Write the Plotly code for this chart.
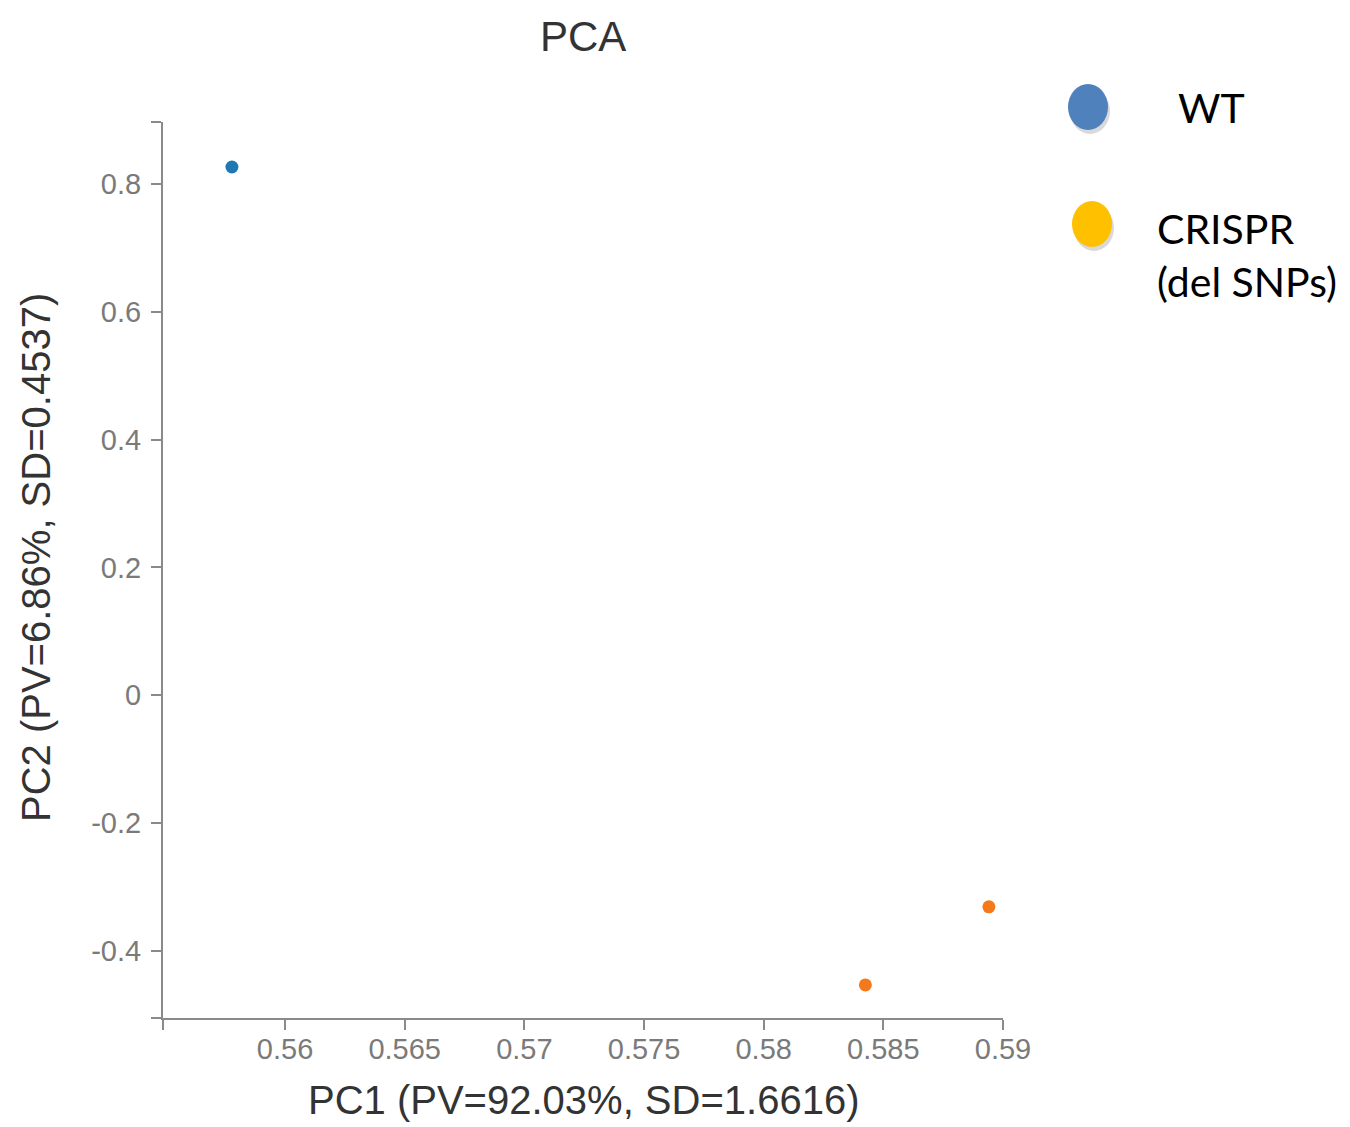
import plotly.graph_objects as go

# ---- data ----
groups = ["WT", "CRISPR", "CRISPR"]
pc1 = [0.55778, 0.58425, 0.58941]
pc2 = [0.8266, -0.4532, -0.3311]
legend_labels = ["WT", "CRISPR<br>(del SNPs)"]
x_ticks = [0.56, 0.565, 0.57, 0.575, 0.58, 0.585, 0.59]
x_tick_text = ["0.56", "0.565", "0.57", "0.575", "0.58", "0.585", "0.59"]
y_ticks = [-0.4, -0.2, 0, 0.2, 0.4, 0.6, 0.8]
y_tick_text = ["-0.4", "-0.2", "0", "0.2", "0.4", "0.6", "0.8"]
x_range = [0.5549, 0.59]
y_range = [-0.505, 0.897]

point_colors = {"WT": "#1f77b4", "CRISPR": "#f5791a"}
legend_colors = ["#4f81bd", "#ffc000"]

# page offset (body margin) and plot area in page pixels
OFF = 8
W, H = 1350, 1127
L, R, T, B = 163, 1003, 122, 1018
pw, ph = R - L, B - T

def px(xp):
    return (xp - L) / pw

def py(yp):
    return (B - yp) / ph

fig = go.Figure()
for g in ["WT", "CRISPR"]:
    xs = [x for x, gg in zip(pc1, groups) if gg == g]
    ys = [y for y, gg in zip(pc2, groups) if gg == g]
    fig.add_trace(go.Scatter(
        x=xs, y=ys, mode="markers", name=g,
        marker=dict(size=13, color=point_colors[g], line=dict(width=0)),
        showlegend=False,
    ))

axis_common = dict(
    showgrid=False, zeroline=False, showline=True, linecolor="#8a8a8a", linewidth=2,
    ticks="outside", ticklen=10, tickwidth=2, tickcolor="#8a8a8a",
    tickfont=dict(family="Liberation Sans, Arial", size=29, color="#7a7a7a"),
    mirror=False,
)

fig.update_layout(
    width=W, height=H,
    margin=dict(l=L - OFF, r=W - R + OFF, t=T - OFF, b=H - B + OFF),
    plot_bgcolor="white", paper_bgcolor="white",
    xaxis=dict(range=x_range, tickvals=[x_range[0]] + x_ticks,
               ticktext=[""] + x_tick_text, ticklabelstandoff=-6, **axis_common),
    yaxis=dict(range=y_range, tickvals=[y_range[0]] + y_ticks + [y_range[1]],
               ticktext=[""] + y_tick_text + [""], ticklabelstandoff=4, **axis_common),
)

annotations = [
    dict(text="PCA", x=px(583), y=py(36), xref="paper", yref="paper",
         showarrow=False, xanchor="center", yanchor="middle", borderpad=0,
         font=dict(family="Liberation Sans, Arial", size=42, color="#333333")),
    dict(text="PC1 (PV=92.03%, SD=1.6616)", x=px(583), y=py(1100), xref="paper", yref="paper",
         showarrow=False, xanchor="center", yanchor="middle", borderpad=0,
         font=dict(family="Liberation Sans, Arial", size=40, color="#333333")),
    dict(text="PC2 (PV=6.86%, SD=0.4537)", x=px(36), y=py(558), xref="paper", yref="paper",
         showarrow=False, xanchor="center", yanchor="middle", textangle=-90, borderpad=0,
         font=dict(family="Liberation Sans, Arial", size=40, color="#333333")),
]

# custom legend
ell = [(1068, 84, 1108, 130), (1072, 201, 1112, 247)]
shapes = []
for (x0, y0, x1, y1), c in zip(ell, legend_colors):
    shapes.append(dict(type="circle", xref="paper", yref="paper",
                       x0=px(x0 + 2), x1=px(x1 + 2), y0=py(y1 + 4), y1=py(y0 + 4),
                       fillcolor="rgba(0,0,0,0.15)", line=dict(width=0)))
    shapes.append(dict(type="circle", xref="paper", yref="paper",
                       x0=px(x0), x1=px(x1), y0=py(y1), y1=py(y0),
                       fillcolor=c, line=dict(width=0)))

annotations.append(dict(text=legend_labels[0], x=px(1176), y=py(107), xref="paper", yref="paper",
                        showarrow=False, xanchor="left", yanchor="middle",
                        font=dict(family="Lato", size=41, color="black")))
annotations.append(dict(text=legend_labels[1], x=px(1155), y=py(255), xref="paper", yref="paper",
                        showarrow=False, xanchor="left", yanchor="middle", align="left",
                        font=dict(family="Lato", size=41, color="black")))

fig.update_layout(annotations=annotations, shapes=shapes)
fig.write_html("out.html")
